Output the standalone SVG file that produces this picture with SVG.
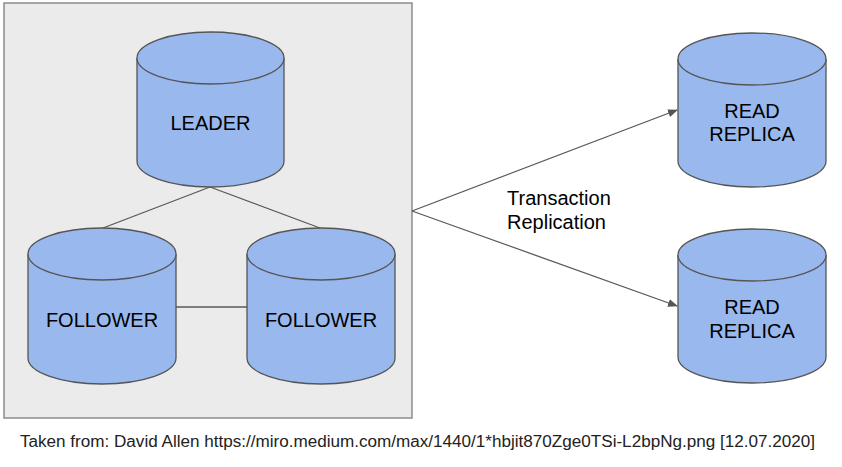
<svg xmlns="http://www.w3.org/2000/svg" width="842" height="467" viewBox="0 0 842 467">
<style>
.db{fill:#99b9ee;stroke:#555;stroke-width:1.3}
.lbl{font-family:"Liberation Sans",Arial,sans-serif;font-size:20px;fill:#000;text-anchor:middle}
.ln{stroke:#595959;stroke-width:1.3;fill:none}
</style>
<defs>
<marker id="ah" markerWidth="10" markerHeight="8" refX="9" refY="4" orient="auto" markerUnits="userSpaceOnUse">
<path d="M0,0 L10,4 L0,8 Z" fill="#555"/>
</marker>
</defs>
<rect width="842" height="467" fill="#fff"/>
<g id="cluster">
<rect x="4" y="3" width="408" height="415" fill="#ebebeb" stroke="#8c8c8c" stroke-width="1.5"/>
</g>
<g id="connectors">
<line class="ln" x1="210" y1="187" x2="103" y2="228"/>
<line class="ln" x1="210" y1="187" x2="320" y2="228"/>
<line class="ln" x1="176" y1="307" x2="247" y2="307"/>
<line class="ln" x1="412" y1="211" x2="677" y2="110" marker-end="url(#ah)"/>
<line class="ln" x1="412" y1="211" x2="677" y2="306" marker-end="url(#ah)"/>
</g>
<g id="leader">
<path class="db" d="M137,58 A73.5,26 0 0 1 284,58 L284,161 A73.5,26 0 0 1 137,161 Z"/>
<path class="db" d="M137,58 A73.5,26 0 0 0 284,58"/>
<text class="lbl" x="210.5" y="130">LEADER</text>
</g>
<g id="follower1">
<path class="db" d="M28,254 A74,26 0 0 1 176,254 L176,358 A74,26 0 0 1 28,358 Z"/>
<path class="db" d="M28,254 A74,26 0 0 0 176,254"/>
<text class="lbl" x="102" y="327">FOLLOWER</text>
</g>
<g id="follower2">
<path class="db" d="M247,254 A74,26 0 0 1 395,254 L395,358 A74,26 0 0 1 247,358 Z"/>
<path class="db" d="M247,254 A74,26 0 0 0 395,254"/>
<text class="lbl" x="321" y="327">FOLLOWER</text>
</g>
<g id="replica1">
<path class="db" d="M678,59 A74,26 0 0 1 826,59 L826,161 A74,26 0 0 1 678,161 Z"/>
<path class="db" d="M678,59 A74,26 0 0 0 826,59"/>
<text class="lbl" x="752" y="118">READ</text>
<text class="lbl" x="752" y="141">REPLICA</text>
</g>
<g id="replica2">
<path class="db" d="M678,255 A74,26 0 0 1 826,255 L826,357 A74,26 0 0 1 678,357 Z"/>
<path class="db" d="M678,255 A74,26 0 0 0 826,255"/>
<text class="lbl" x="752" y="314">READ</text>
<text class="lbl" x="752" y="338">REPLICA</text>
</g>
<g id="edge-label">
<text font-family="'Liberation Sans',Arial,sans-serif" font-size="20" x="507" y="205">Transaction</text>
<text font-family="'Liberation Sans',Arial,sans-serif" font-size="20" x="507" y="229">Replication</text>
</g>
<text font-family="'Liberation Sans',Arial,sans-serif" font-size="16" x="20" y="447" textLength="795" lengthAdjust="spacingAndGlyphs" fill="#222">Taken from: David Allen https://miro.medium.com/max/1440/1*hbjit870Zge0TSi-L2bpNg.png [12.07.2020]</text>
</svg>
